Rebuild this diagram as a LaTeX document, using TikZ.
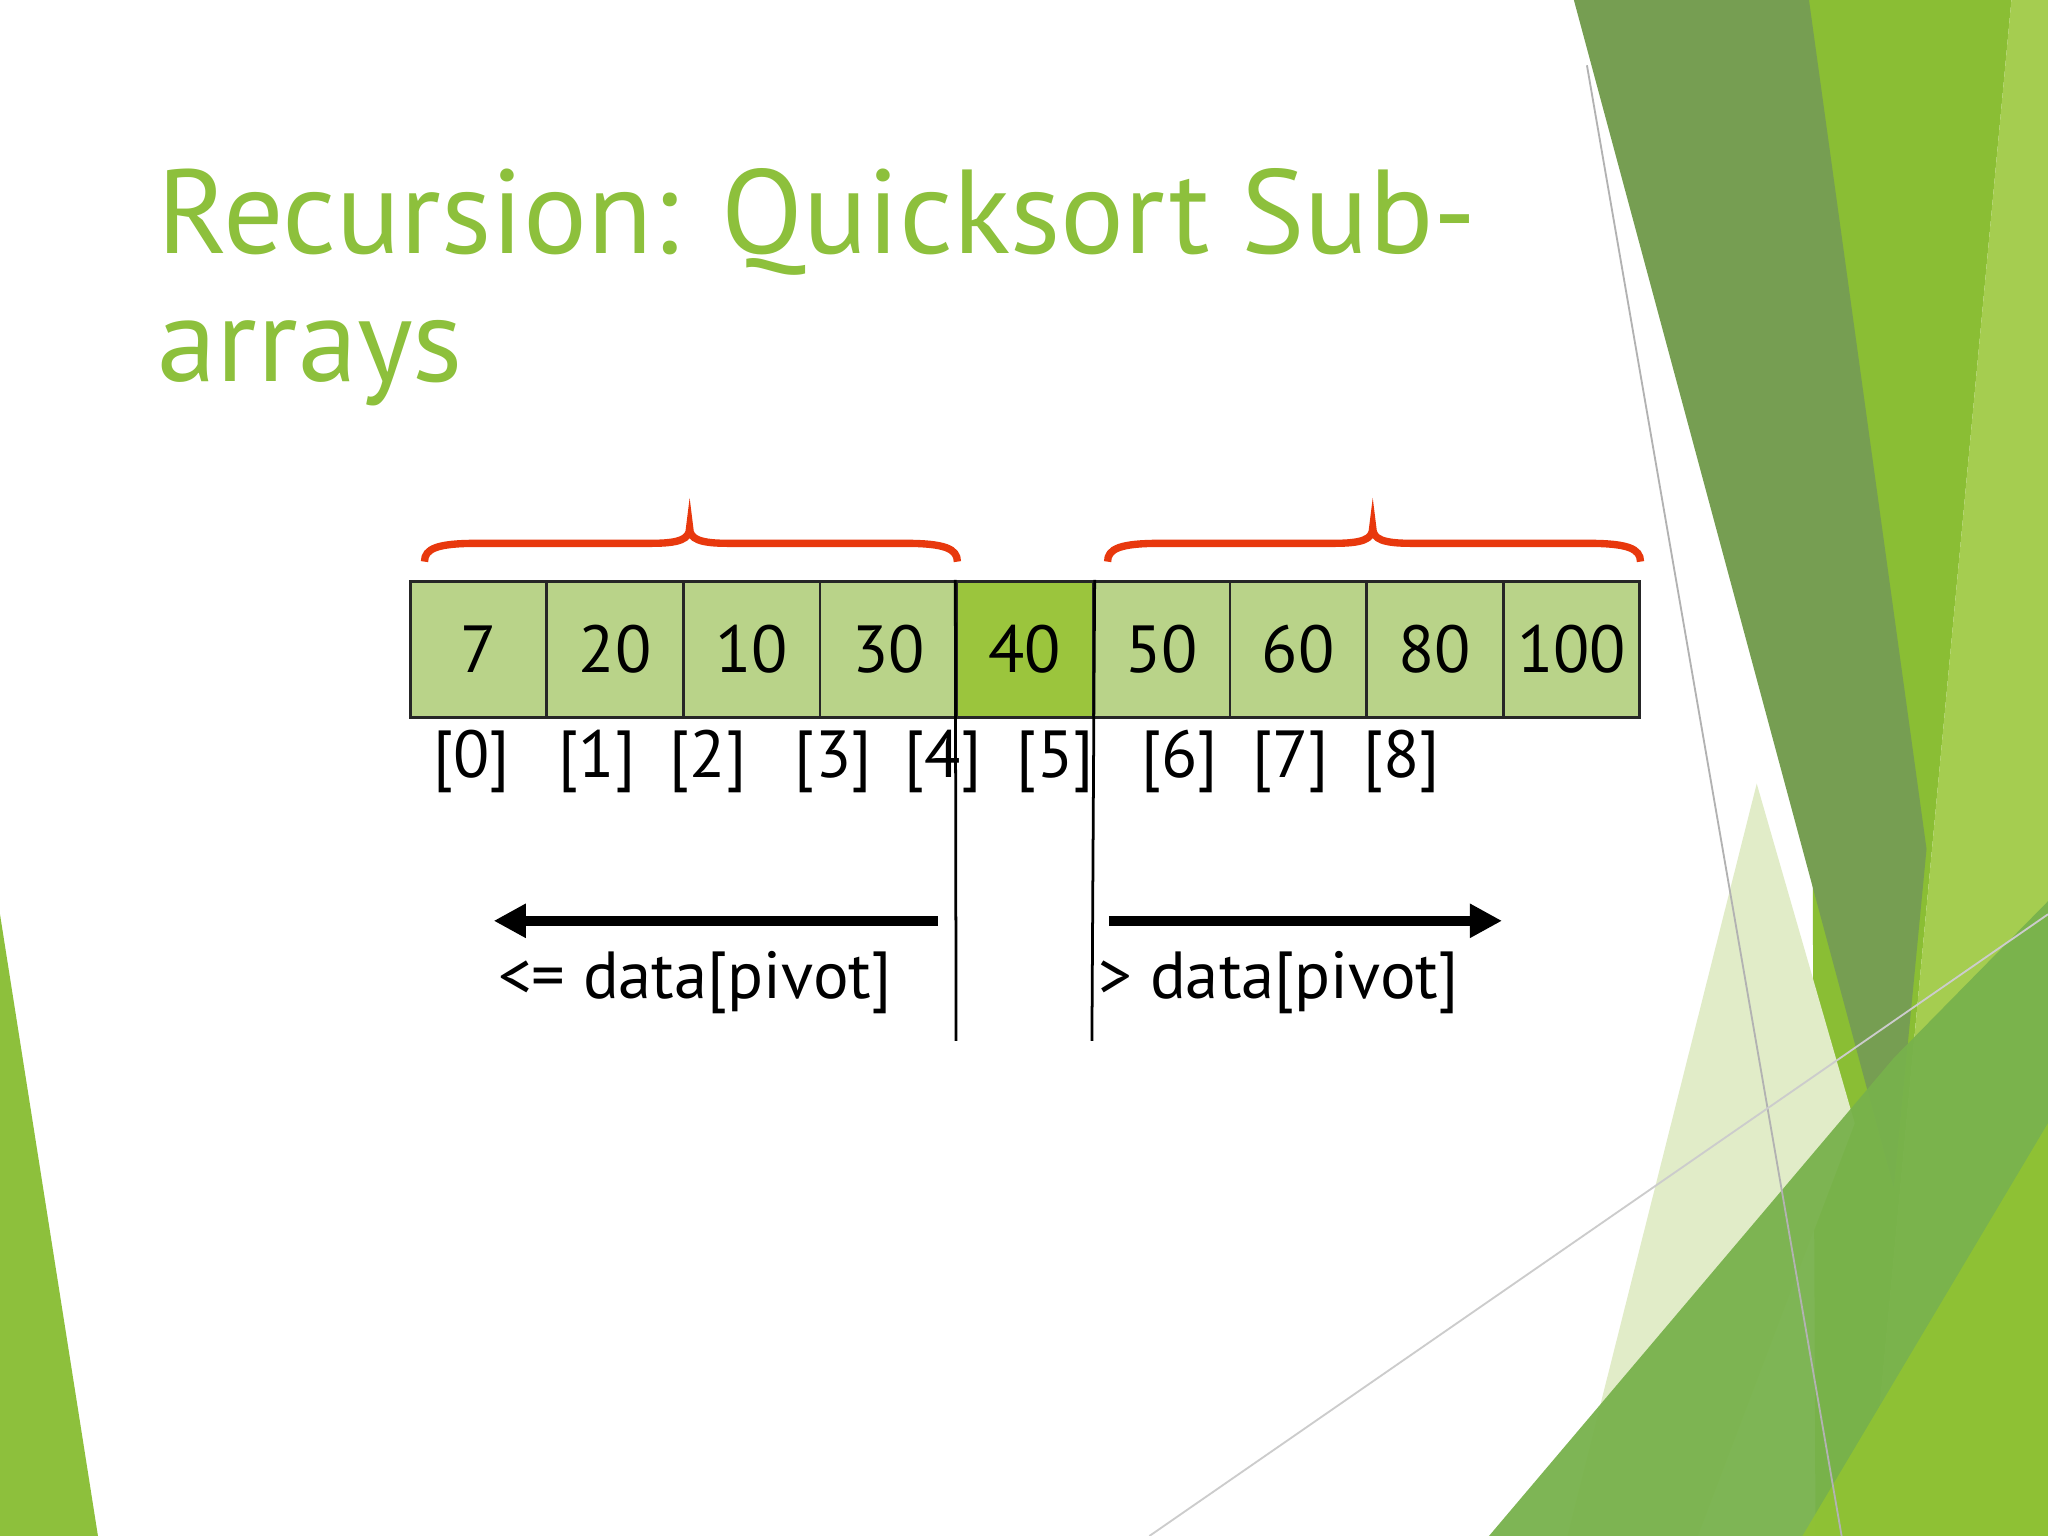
\documentclass[tikz,border=0pt]{standalone}
\usepackage{fontspec}
\setmainfont{PT Sans}
\begin{document}
\begin{tikzpicture}[x=0.01cm,y=-0.01cm,
 cell/.style={draw=black!85,line width=0.6pt,fill=cellg,minimum width=104.6*0.01cm,minimum height=104*0.01cm,font=\fontsize{14.5}{16}\selectfont,anchor=north west,inner sep=0pt},
 idx/.style={font=\fontsize{14.5}{16}\selectfont},
 lbl/.style={font=\fontsize{14.5}{16}\selectfont},
 brace/.style={draw=braceRed,line width=1.6pt},
 arr/.style={line width=2.2pt,-{Triangle[length=7pt,width=7pt]}}]
\usetikzlibrary{arrows.meta}
\definecolor{cellg}{HTML}{B9D389}
\definecolor{pivg}{HTML}{9BC53D}
\definecolor{titleg}{HTML}{8DC03C}
\definecolor{braceRed}{HTML}{E8380D}
\useasboundingbox (0,0) rectangle (1568,1176);
% background decoration
\fill[white] (0,0) rectangle (1568,1176);
\fill[color={rgb,255:red,138;green,190;blue,52}] (1385,0) -- (1540,0) -- (1430,1176) -- (1390,1176) -- cycle;
\fill[color={rgb,255:red,165;green,205;blue,80}] (1540,0) -- (1568,0) -- (1568,1176) -- (1430,1176) -- cycle;
\fill[color={rgb,255:red,225;green,236;blue,200}] (1200,1176) -- (1345,600) -- (1420,860) -- (1300,1176) -- cycle;
\fill[color={rgb,255:red,118;green,158;blue,82}] (1205,0) -- (1385,0) -- (1475,650) -- (1450,910) -- cycle;
\fill[color={rgb,255:red,120;green,178;blue,76},opacity=0.95] (1140,1176) -- (1450,810) -- (1568,690) -- (1568,1176) -- cycle;
\fill[color={rgb,255:red,145;green,195;blue,50},opacity=0.9] (1380,1176) -- (1568,860) -- (1568,1176) -- cycle;
\fill[color={rgb,255:red,141;green,192;blue,60}] (0,700) -- (75,1176) -- (0,1176) -- cycle;
\draw[gray!60,line width=0.4pt] (1215,50) -- (1410,1176);
\draw[gray!40,line width=0.4pt] (880,1176) -- (1568,700);
% title
\node[anchor=north west,align=left,text=titleg,font=\fontsize{26}{28}\selectfont,inner sep=0pt] (title) at (120,128) {Recursion: Quicksort Sub-\\arrays};
% array
\foreach \v [count=\i from 0] in {7,20,10,30,40,50,60,80,100}{
  \node[cell] (c\i) at ({313+\i*104.6},444) {\v};
}
\node[cell,fill=pivg] (c4) at ({313+4*104.6},444) {40};
\foreach \x [count=\i from 0] in {361,457,542,638,722,808,903,988,1073}{
  \node[idx] (i\i) at (\x,583) {[\i]};
}
\coordinate (l1) at (732,797); \coordinate (l2) at (836,797);
\draw[line width=0.6pt] (c4.north west) -- (l1);
\draw[line width=0.6pt] (c4.north east) -- (l2);
% arrows
\coordinate (a1) at (718,705); \coordinate (a2) at (378,705);
\coordinate (b1) at (849,705); \coordinate (b2) at (1150,705);
\draw[arr] (a1) -- (a2);
\draw[arr] (b1) -- (b2);
\node[lbl] (t1) at (532,752) {<= data[pivot]};
\node[lbl] (t2) at (979,752) {> data[pivot]};
% braces
\foreach \a/\m/\b in {325/528/733,848/1051/1256}{
 \draw[brace] (\a,430) .. controls (\a,420) and (\a+10,416) .. (\a+40,416) -- (\m-30,416) .. controls (\m-8,416) and (\m,413) .. (\m,404)
   .. controls (\m,413) and (\m+8,416) .. (\m+30,416) -- (\b-40,416) .. controls (\b-10,416) and (\b,420) .. (\b,430);
}
\end{tikzpicture}
\end{document}
